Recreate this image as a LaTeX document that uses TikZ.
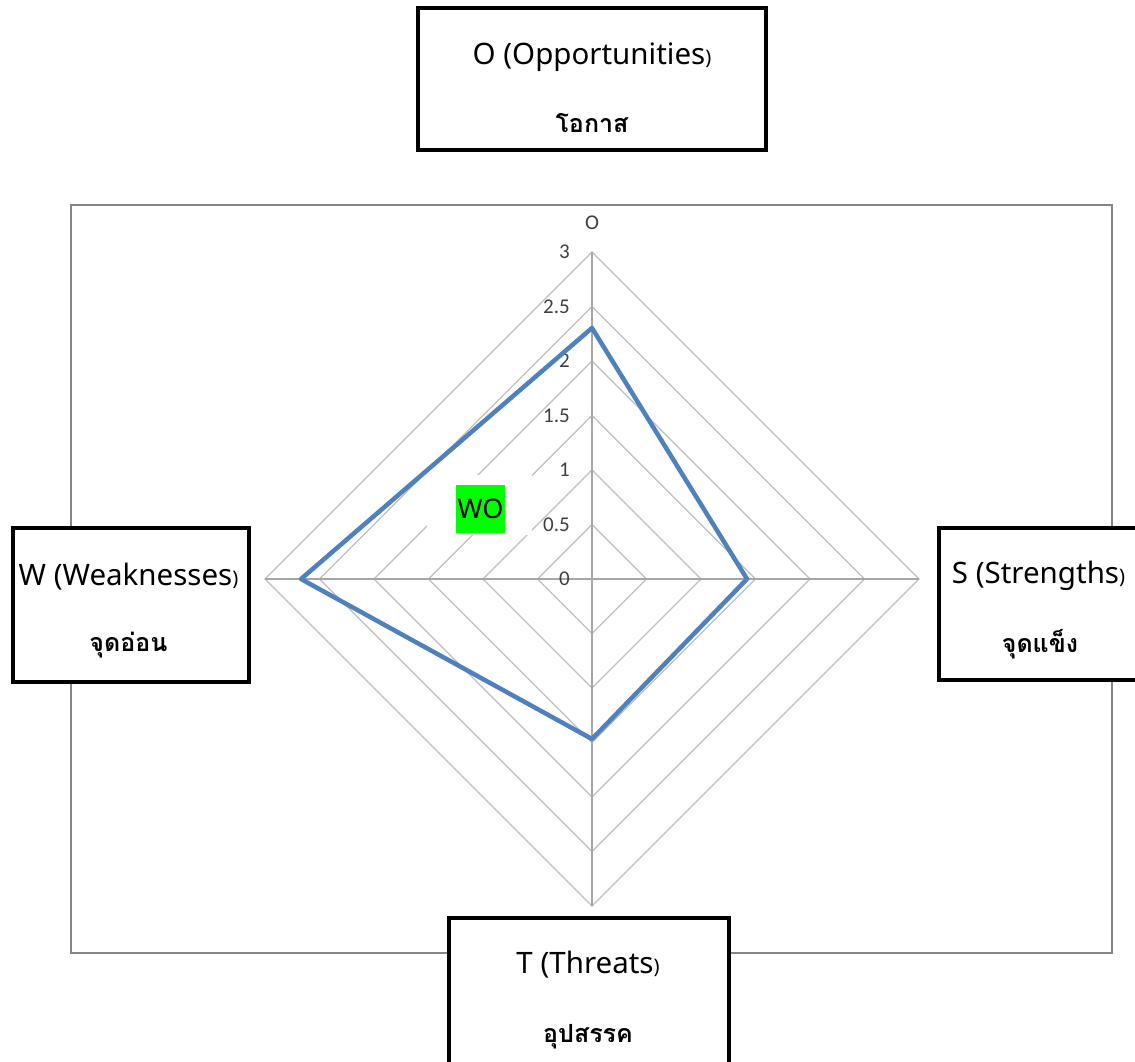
\documentclass[tikz,border=0pt]{standalone}
\usepackage{fontspec}
\usetikzlibrary{calc}
\newfontfamily\thaifont[Script=Thai]{Loma}
\newfontfamily\enfont{Noto Sans}
\newfontfamily\tickfont{Carlito}
\definecolor{ringgray}{RGB}{191,191,191}
\definecolor{spokegray}{RGB}{166,166,166}
\definecolor{framegray}{RGB}{134,134,134}
\definecolor{serieblue}{RGB}{79,129,189}
\definecolor{ticktext}{RGB}{64,64,64}
\definecolor{wogreen}{RGB}{0,255,0}
\newcommand{\smallparen}{{\fontsize{20}{20}\selectfont )}}
\begin{document}
\begin{tikzpicture}[x=1pt,y=-1pt,
  labelbox/.style={draw=black, line width=4pt, fill=white, inner sep=0pt, outer sep=0pt},
  entext/.style={anchor=base, inner sep=0pt, font=\enfont\fontsize{29.5}{29.5}\selectfont},
  thtext/.style={anchor=base, inner sep=0pt, font=\thaifont\bfseries\fontsize{25}{25}\selectfont},
  ticklabel/.style={anchor=east, inner sep=0pt, text=ticktext, font=\tickfont\fontsize{21}{21}\selectfont},
  ring/.style={draw=ringgray, line width=1.3pt},
  spoke/.style={draw=spokegray, line width=1.5pt},
  series/.style={draw=serieblue, line width=4.5pt, line join=round, line cap=round}]
\useasboundingbox (0,0) rectangle (1135,1062);
\clip (0,0) rectangle (1135,1062);
\fill[white] (0,0) rectangle (1135,1062);
% plot area frame
\draw[framegray, line width=2pt] (71,205) rectangle (1112,953);
% centre
\coordinate (c) at (592,579);
% rings
\foreach \r in {0.5,1,1.5,2,2.5,3}{
  \draw[ring] ($(c)+(0,-109*\r)$) -- ($(c)+(109*\r,0)$) -- ($(c)+(0,109*\r)$) -- ($(c)+(-109*\r,0)$) -- cycle;
}
% spokes
\coordinate (top) at (592,252);
\coordinate (right) at (919,579);
\coordinate (bottom) at (592,906);
\coordinate (left) at (265,579);
\draw[spoke] (c) -- (top);
\draw[spoke] (c) -- (right);
\draw[spoke] (c) -- (bottom);
\draw[spoke] (c) -- (left);
% tick labels
\foreach \v/\t in {0/0,0.5/0.5,1/1,1.5/1.5,2/2,2.5/2.5,3/3}{
  \node[ticklabel] (tick\v) at ($(c)+(-22,-109*\v)$) {\t};
}
\node[anchor=center, inner sep=0pt, text=ticktext, font=\tickfont\fontsize{21}{21}\selectfont] (axisO) at (592,223) {O};
% series
\coordinate (pO) at (592,328);
\coordinate (pS) at (747,579);
\coordinate (pT) at (592,739);
\coordinate (pW) at (301,579);
\draw[series] (pO) -- (pS) -- (pT) -- (pW) -- cycle;
% WO label
\fill[white] (427,475) rectangle (532,535);
\node[fill=wogreen, inner sep=0pt, minimum width=49pt, minimum height=48pt, font=\enfont\fontsize{27}{27}\selectfont] (wo) at (480.5,509) {WO};
% boxes
\node[labelbox, minimum width=348pt, minimum height=142pt] (boxO) at (592,79) {};
\node[labelbox, minimum width=236.5pt, minimum height=153.5pt] (boxW) at (130.75,604.75) {};
\node[labelbox, minimum width=206.5pt, minimum height=151.5pt] (boxS) at (1041.75,603.75) {};
\node[labelbox, minimum width=280.5pt, minimum height=157.5pt] (boxT) at (588.75,996.25) {};
% texts
\node[entext] (enO) at (592,65) {O (Opportunities\smallparen};
\node[thtext] (thO) at (592,132) {โอกาส};
\node[entext] (enW) at (128.5,585) {W (Weaknesses\smallparen};
\node[thtext] (thW) at (128.5,651) {จุดอ่อน};
\node[entext] (enS) at (1038.5,583) {S (Strengths\smallparen};
\node[thtext] (thS) at (1040,652) {จุดแข็ง};
\node[entext] (enT) at (588,973) {T (Threats\smallparen};
\node[thtext] (thT) at (588,1042) {อุปสรรค};
\end{tikzpicture}
\end{document}
